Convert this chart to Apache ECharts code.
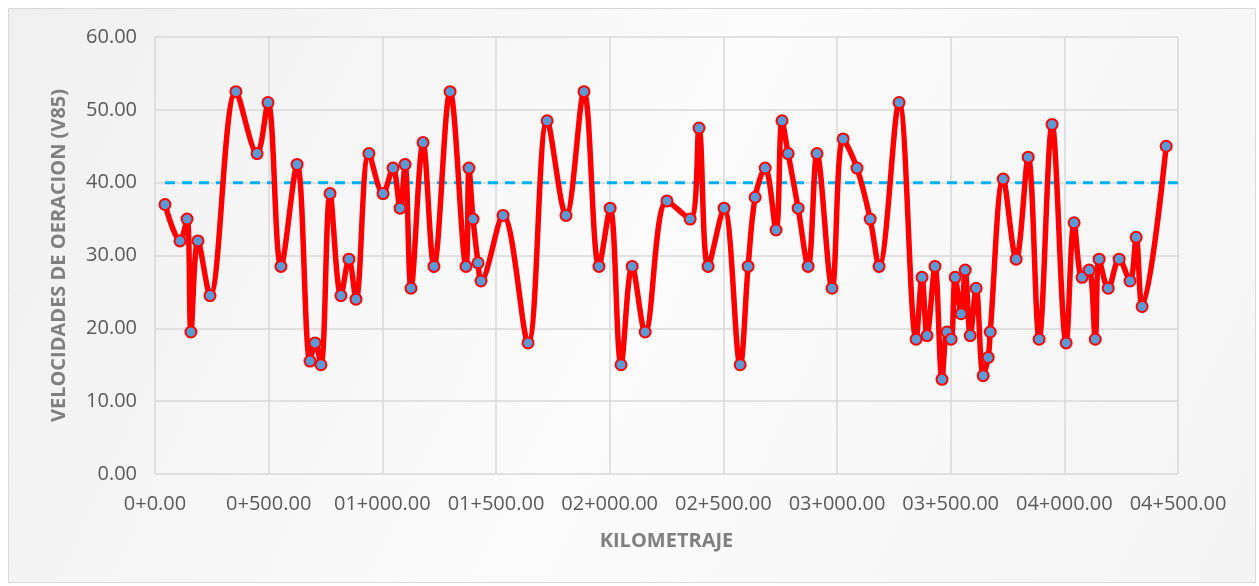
<!DOCTYPE html>
<html>
<head>
<meta charset="utf-8">
<script src="https://cdn.jsdelivr.net/npm/echarts@6/dist/echarts.min.js"></script>
<style>
  html, body { margin: 0; padding: 0; background: #ffffff; }
  #main { width: 1259px; height: 586px; }
</style>
</head>
<body>
<div id="main"></div>
<script>
// kilometraje (m) de cada punto
var kmValues = [44, 110, 141, 158, 189, 242, 356, 449, 497, 554, 625, 682, 704, 730, 770, 818, 853, 884,
  941, 1003, 1047, 1078, 1100, 1126, 1179, 1227, 1298, 1368, 1381, 1399, 1421, 1434, 1531, 1641, 1725,
  1808, 1887, 1953, 2002, 2050, 2099, 2156, 2252, 2354, 2393, 2433, 2503, 2574, 2609, 2640, 2684, 2732,
  2758, 2785, 2829, 2873, 2912, 2978, 3027, 3088, 3146, 3185, 3273, 3348, 3374, 3396, 3431, 3462, 3484,
  3502, 3520, 3546, 3564, 3586, 3612, 3643, 3665, 3674, 3731, 3788, 3841, 3889, 3946, 4008, 4043, 4078,
  4109, 4136, 4153, 4193, 4241, 4289, 4316, 4342, 4448];
// velocidad de operacion V85
var v85Values = [37, 32, 35, 19.5, 32, 24.5, 52.5, 44, 51, 28.5, 42.5, 15.5, 18, 15, 38.5, 24.5, 29.5, 24,
  44, 38.5, 42, 36.5, 42.5, 25.5, 45.5, 28.5, 52.5, 28.5, 42, 35, 29, 26.5, 35.5, 18, 48.5,
  35.5, 52.5, 28.5, 36.5, 15, 28.5, 19.5, 37.5, 35, 47.5, 28.5, 36.5, 15, 28.5, 38, 42, 33.5,
  48.5, 44, 36.5, 28.5, 44, 25.5, 46, 42, 35, 28.5, 51, 18.5, 27, 19, 28.5, 13, 19.5,
  18.5, 27, 22, 28, 19, 25.5, 13.5, 16, 19.5, 40.5, 29.5, 43.5, 18.5, 48, 18, 34.5, 27,
  28, 18.5, 29.5, 25.5, 29.5, 26.5, 32.5, 23, 45];
// linea de referencia 40 km/h
var limitX = [44, 4500];
var limitY = [40, 40];
var xTickLabels = ['0+0.00', '0+500.00', '01+000.00', '01+500.00', '02+000.00',
  '02+500.00', '03+000.00', '03+500.00', '04+000.00', '04+500.00'];

var mainData = kmValues.map(function (k, i) { return [k, v85Values[i]]; });
var limitData = limitX.map(function (k, i) { return [k, limitY[i]]; });

var chart = echarts.init(document.getElementById('main'));
var option = {
  animation: false,
  graphic: [{
    type: 'rect',
    z: -10,
    shape: { x: 8.5, y: 8.5, width: 1247, height: 574 },
    style: {
      fill: new echarts.graphic.LinearGradient(0, 0, 1, 1, [
        { offset: 0, color: '#f0f0f0' },
        { offset: 0.5, color: '#fbfbfb' },
        { offset: 1, color: '#f4f4f4' }
      ]),
      stroke: '#d9d9d9',
      lineWidth: 1
    }
  }],
  grid: { left: 155, right: 81, top: 37, bottom: 112 },
  xAxis: {
    type: 'value',
    min: 0,
    max: 4500,
    interval: 500,
    name: 'KILOMETRAJE',
    nameLocation: 'middle',
    nameGap: 57,
    nameTextStyle: { color: '#7f7f7f', fontSize: 20, fontWeight: 'bold', fontFamily: 'Open Sans' },
    axisLine: { show: false },
    axisTick: { show: false },
    axisLabel: {
      color: '#595959', fontSize: 20, fontFamily: 'Open Sans', margin: 20,
      formatter: function (v) { return xTickLabels[Math.round(v / 500)]; }
    },
    splitLine: { show: true, lineStyle: { color: '#d9d9d9', width: 1.5 } }
  },
  yAxis: {
    type: 'value',
    min: 0,
    max: 60,
    interval: 10,
    name: 'VELOCIDADES DE OERACION (V85)',
    nameLocation: 'middle',
    nameGap: 86,
    nameTextStyle: { color: '#7f7f7f', fontSize: 20, fontWeight: 'bold', fontFamily: 'Open Sans' },
    axisLine: { show: false },
    axisTick: { show: false },
    axisLabel: {
      color: '#595959', fontSize: 20, fontFamily: 'Open Sans', margin: 18,
      formatter: function (v) { return v.toFixed(2); }
    },
    splitLine: { lineStyle: { color: '#d9d9d9', width: 1.5 } }
  },
  series: [
    {
      type: 'line',
      data: limitData,
      symbol: 'none',
      silent: true,
      z: 1,
      lineStyle: { color: '#00b0f0', width: 3, type: [10, 7] }
    },
    {
      type: 'line',
      data: mainData,
      smooth: 0.35,
      symbol: 'circle',
      symbolSize: 11,
      z: 3,
      lineStyle: { color: '#ff0000', width: 5.5 },
      itemStyle: { color: '#5b9bd5', borderColor: '#ff0000', borderWidth: 2 }
    }
  ]
};
chart.setOption(option);
</script>
</body>
</html>
